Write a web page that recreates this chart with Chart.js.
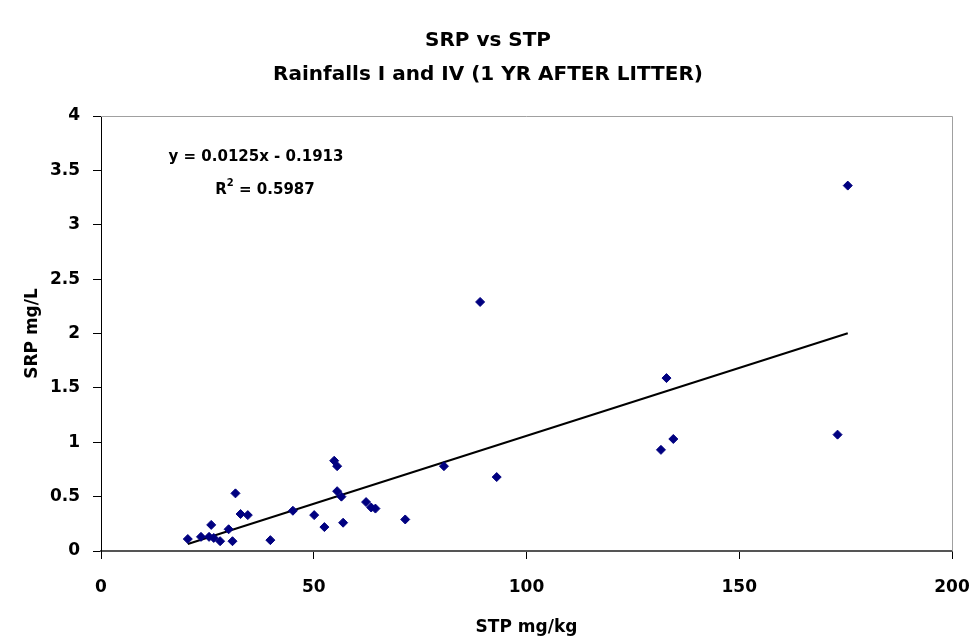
<!DOCTYPE html>
<html>
<head>
<meta charset="utf-8">
<script src="https://cdn.jsdelivr.net/npm/chart.js@4.4.1/dist/chart.umd.min.js"></script>
<style>
  html, body { margin: 0; padding: 0; background: #fff; }
  #wrap { width: 976px; height: 644px; }
</style>
</head>
<body>
<div id="wrap"><canvas id="chart"></canvas></div>
<script>
// STP (mg/kg) and SRP (mg/L)
const stpValues = [20.4, 23.5, 25.4, 26.5, 25.9, 28.0, 30.0, 30.9, 31.6, 32.8, 34.5, 39.8,
  45.1, 50.1, 52.5, 54.8, 55.5, 55.5, 56.5, 56.9, 62.3, 63.5, 64.5, 71.5, 80.6, 93.0,
  89.1, 175.5, 132.9, 134.5, 131.6, 173.1];
const srpValues = [0.11, 0.13, 0.13, 0.12, 0.24, 0.09, 0.2, 0.09, 0.53, 0.34, 0.33, 0.1,
  0.37, 0.33, 0.22, 0.83, 0.78, 0.55, 0.5, 0.26, 0.45, 0.4, 0.39, 0.29, 0.78, 0.68,
  2.29, 3.36, 1.59, 1.03, 0.93, 1.07];

// trend line as printed on the chart
const trendSlope = 0.0125;
const trendIntercept = -0.1913;
const trendR2 = '0.5987';

const titleLines = ['SRP vs STP', 'Rainfalls I and IV (1 YR AFTER LITTER)'];
const xTicks = [0, 50, 100, 150, 200];
const yTicks = [0, 0.5, 1, 1.5, 2, 2.5, 3, 3.5, 4];

const FONT = '"DejaVu Sans", sans-serif';

const points = stpValues.map((x, i) => ({ x, y: srpValues[i] }));
const xMin = Math.min(...stpValues);
const xMax = Math.max(...stpValues);
const trendPoints = [xMin, xMax].map(x => ({ x, y: trendSlope * x + trendIntercept }));

const frameAndLabel = {
  id: 'frameAndLabel',
  afterDatasetsDraw(chart) {
    const { ctx, chartArea } = chart;
    ctx.save();
    // grey plot-area border top and right
    ctx.strokeStyle = '#a0a0a0';
    ctx.lineWidth = 1;
    ctx.beginPath();
    ctx.moveTo(chartArea.left, chartArea.top + 0.5);
    ctx.lineTo(chartArea.right + 0.5, chartArea.top + 0.5);
    ctx.lineTo(chartArea.right + 0.5, chartArea.bottom);
    ctx.stroke();

    ctx.fillStyle = '#000';
    ctx.textBaseline = 'middle';
    ctx.textAlign = 'center';

    // chart title
    ctx.font = 'bold 20px ' + FONT;
    ctx.fillText(titleLines[0], chart.width / 2, 41);
    ctx.fillText(titleLines[1], chart.width / 2, 75);

    // equation text
    ctx.font = 'bold 15px ' + FONT;
    ctx.fillText('y = ' + trendSlope + 'x - ' + Math.abs(trendIntercept), chartArea.left + 155, chartArea.top + 41);

    const cx = chartArea.left + 164;
    const lhs = 'R';
    const rhs = ' = ' + trendR2;
    const wL = ctx.measureText(lhs).width;
    ctx.font = 'bold 10px ' + FONT;
    const wS = ctx.measureText('2').width;
    ctx.font = 'bold 15px ' + FONT;
    const wR = ctx.measureText(rhs).width;
    const sx = cx - (wL + wS + wR) / 2;
    const ry = chartArea.top + 74;
    ctx.textAlign = 'left';
    ctx.fillText(lhs, sx, ry);
    ctx.font = 'bold 10px ' + FONT;
    ctx.fillText('2', sx + wL, ry - 7);
    ctx.font = 'bold 15px ' + FONT;
    ctx.fillText(rhs, sx + wL + wS, ry);
    ctx.restore();
  }
};

new Chart(document.getElementById('chart'), {
  type: 'scatter',
  data: {
    datasets: [
      {
        label: 'SRP',
        data: points,
        pointStyle: 'rectRot',
        pointRadius: 4.5,
        backgroundColor: '#000080',
        borderColor: '#000080',
        borderWidth: 1
      },
      {
        label: 'Linear',
        type: 'line',
        data: trendPoints,
        borderColor: '#000',
        borderWidth: 2,
        pointRadius: 0,
        fill: false
      }
    ]
  },
  options: {
    responsive: true,
    maintainAspectRatio: false,
    animation: false,
    layout: { padding: { left: 0, right: 24, top: 116, bottom: 0 } },
    plugins: {
      legend: { display: false },
      tooltip: { enabled: false },
      title: { display: false }
    },
    scales: {
      x: {
        type: 'linear',
        min: 0,
        max: 200,
        afterFit: s => {
          s.height = 93;
          s.paddingLeft = 0;
          s.paddingRight = 0;
        },
        afterBuildTicks: s => { s.ticks = xTicks.map(v => ({ value: v })); },
        grid: { drawOnChartArea: false, drawTicks: true, tickLength: 8, color: '#000' },
        border: { display: true, color: '#555', width: 2 },
        ticks: { color: '#000', padding: 18, font: { family: FONT, size: 17, weight: 'bold' } },
        title: {
          display: true,
          text: 'STP mg/kg',
          color: '#000',
          font: { family: FONT, size: 17, weight: 'bold' },
          padding: { top: 16, bottom: 6 }
        }
      },
      y: {
        type: 'linear',
        min: 0,
        max: 4,
        afterFit: s => { s.width = 101; },
        afterBuildTicks: s => { s.ticks = yTicks.map(v => ({ value: v })); },
        grid: { drawOnChartArea: false, drawTicks: true, tickLength: 8, color: '#000' },
        border: { display: true, color: '#000', width: 1 },
        ticks: {
          color: '#000',
          padding: 13,
          font: { family: FONT, size: 17, weight: 'bold' },
          callback: v => String(v)
        },
        title: {
          display: true,
          text: 'SRP mg/L',
          color: '#000',
          font: { family: FONT, size: 17, weight: 'bold' },
          padding: { top: 22, bottom: 8 }
        }
      }
    }
  },
  plugins: [frameAndLabel]
});
</script>
</body>
</html>
